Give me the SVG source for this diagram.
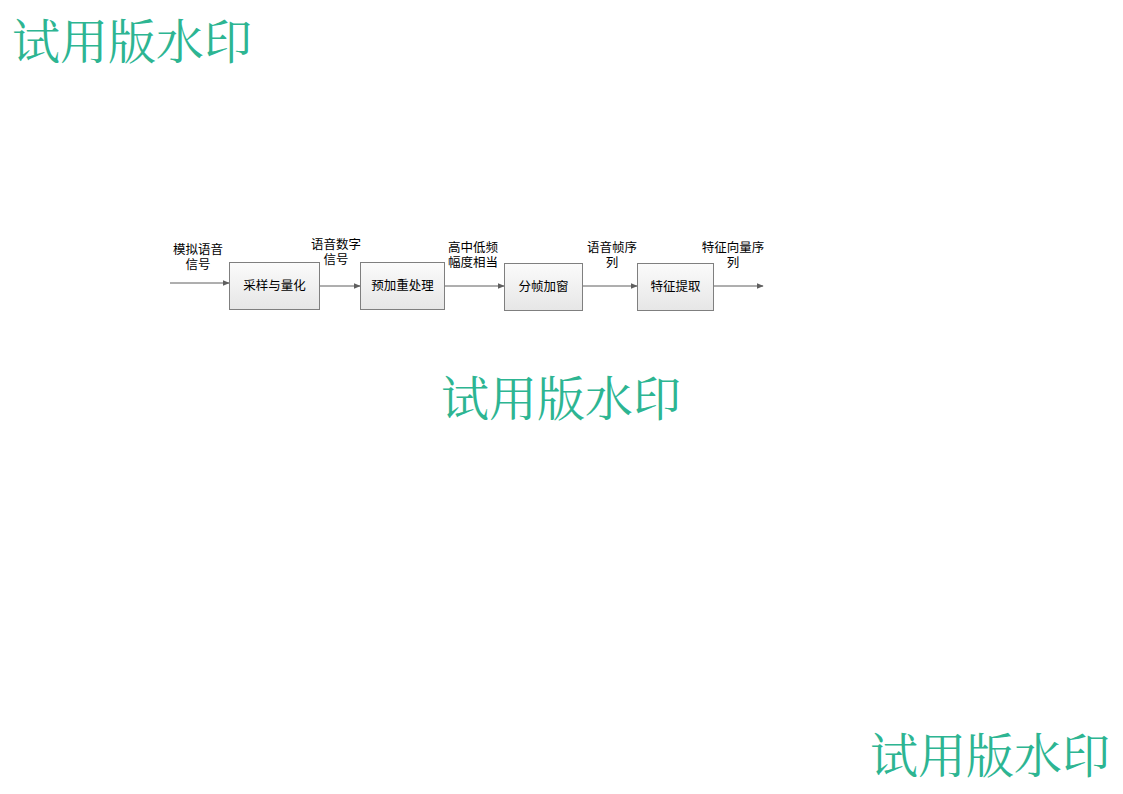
<svg xmlns="http://www.w3.org/2000/svg" width="1123" height="794" viewBox="0 0 1123 794">
<style>
.wm{font-family:"Noto Serif CJK SC","Noto Sans CJK SC",serif;font-size:48px;fill:#2db592}
.t{font-family:"Liberation Sans","Noto Sans CJK SC",sans-serif;font-size:12.5px;fill:#000;text-anchor:middle}
.box{fill:url(#g);stroke:#7f7f7f;stroke-width:1}
.c{stroke:#5f5f5f;stroke-width:1;fill:none;marker-end:url(#a)}
</style>
<defs>
<linearGradient id="g" x1="0" y1="0" x2="0" y2="1"><stop offset="0" stop-color="#fbfbfb"/><stop offset="1" stop-color="#e6e6e6"/></linearGradient>
<marker id="a" viewBox="0 0 10 10" refX="9" refY="5" markerWidth="7" markerHeight="7" orient="auto" markerUnits="userSpaceOnUse"><path d="M0,1 L10,5 L0,9 Z" fill="#5f5f5f"/></marker>
</defs>
<rect width="1123" height="794" fill="#fff"/>
<g id="connectors">
<line class="c" x1="170" y1="283" x2="229" y2="283"/>
<line class="c" x1="320" y1="286" x2="360" y2="286"/>
<line class="c" x1="445" y1="286" x2="504" y2="286"/>
<line class="c" x1="583" y1="286" x2="637" y2="286"/>
<line class="c" x1="714" y1="286" x2="763" y2="286"/>
</g>
<g id="n1"><rect class="box" x="229.5" y="262.5" width="90" height="47"/><text class="t" x="274.5" y="290">采样与量化</text></g>
<g id="n2"><rect class="box" x="360.5" y="262.5" width="84" height="47"/><text class="t" x="402.5" y="290">预加重处理</text></g>
<g id="n3"><rect class="box" x="504.5" y="263.5" width="78" height="47"/><text class="t" x="543.5" y="291">分帧加窗</text></g>
<g id="n4"><rect class="box" x="637.5" y="263.5" width="76" height="47"/><text class="t" x="675.5" y="291">特征提取</text></g>
<g id="labels">
<text class="t" x="198" y="254">模拟语音</text><text class="t" x="198" y="269">信号</text>
<text class="t" x="336" y="249">语音数字</text><text class="t" x="336" y="264">信号</text>
<text class="t" x="473" y="252">高中低频</text><text class="t" x="473" y="267">幅度相当</text>
<text class="t" x="612" y="252">语音帧序</text><text class="t" x="612" y="267">列</text>
<text class="t" x="733" y="252">特征向量序</text><text class="t" x="733" y="267">列</text>
</g>
<g id="watermarks">
<text class="wm" x="12" y="59">试用版水印</text>
<text class="wm" x="441" y="416">试用版水印</text>
<text class="wm" x="870" y="773">试用版水印</text>
</g>
</svg>
